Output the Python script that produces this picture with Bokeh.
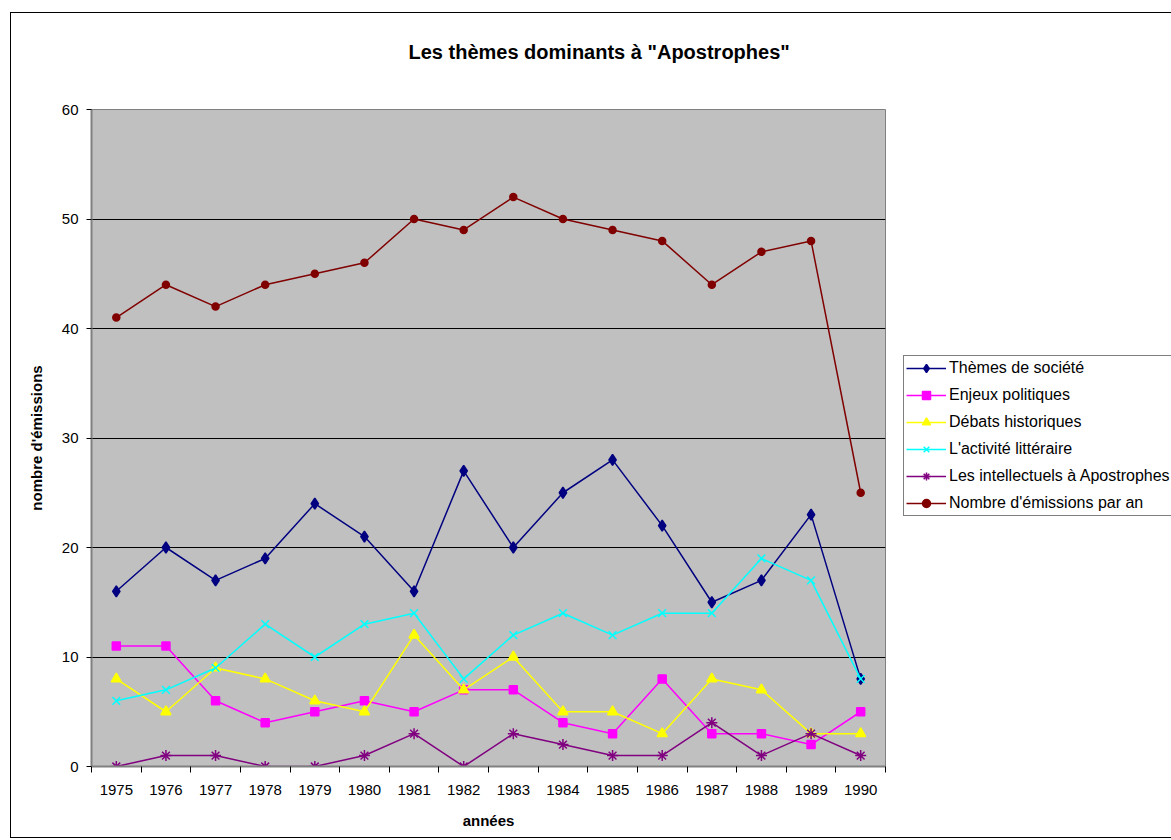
from bokeh.plotting import figure
from bokeh.models import (FixedTicker, Legend, LegendItem, Range1d)
from bokeh.embed import file_html
from bokeh.resources import INLINE

years = [1975, 1976, 1977, 1978, 1979, 1980, 1981, 1982, 1983, 1984, 1985, 1986, 1987, 1988, 1989, 1990]
themes_societe = [16, 20, 17, 19, 24, 21, 16, 27, 20, 25, 28, 22, 15, 17, 23, 8]
enjeux_politiques = [11, 11, 6, 4, 5, 6, 5, 7, 7, 4, 3, 8, 3, 3, 2, 5]
debats_historiques = [8, 5, 9, 8, 6, 5, 12, 7, 10, 5, 5, 3, 8, 7, 3, 3]
activite_litteraire = [6, 7, 9, 13, 10, 13, 14, 8, 12, 14, 12, 14, 14, 19, 17, 8]
intellectuels = [0, 1, 1, 0, 0, 1, 3, 0, 3, 2, 1, 1, 4, 1, 3, 1]
nombre_emissions = [41, 44, 42, 44, 45, 46, 50, 49, 52, 50, 49, 48, 44, 47, 48, 25]

series_names = ["Thèmes de société", "Enjeux politiques", "Débats historiques",
                "L'activité littéraire", "Les intellectuels à Apostrophes",
                "Nombre d'émissions par an"]
y_ticks = [0, 10, 20, 30, 40, 50, 60]

FONT = "Liberation Sans"

p = figure(frame_width=794, frame_height=657,
           min_border_left=80, min_border_right=283, min_border_top=96, min_border_bottom=71,
           x_range=Range1d(years[0] - 0.5, years[-1] + 0.5), y_range=Range1d(0, 60),
           output_backend="svg", toolbar_location=None, background_fill_color="#C0C0C0",
           border_fill_color="white",
           title='Les thèmes dominants à "Apostrophes"\n ')
p.margin = (12, 0, 0, 10)
p.styles = {"border": "1px solid black"}

p.title.text_font = FONT
p.title.text_font_size = "20px"
p.title.text_font_style = "bold"
p.title.text_color = "black"
p.title.align = "left"
p.title.offset = 317
p.title.standoff = 46
p.title.vertical_align = "top"

p.outline_line_color = "#808080"
p.outline_line_width = 1

# grid
p.xgrid.grid_line_color = None
p.ygrid.grid_line_color = "black"
p.ygrid.grid_line_width = 1
p.ygrid.ticker = FixedTicker(ticks=y_ticks)

# axes
p.yaxis.ticker = FixedTicker(ticks=y_ticks)
p.xaxis.ticker = FixedTicker(ticks=years, minor_ticks=[y - 0.5 for y in years] + [years[-1] + 0.5])
p.xaxis.major_tick_line_color = None
p.xaxis.minor_tick_line_color = "black"
p.xaxis.minor_tick_out = 6
p.xaxis.minor_tick_in = 0
p.yaxis.minor_tick_line_color = None
p.yaxis.major_tick_out = 5
p.yaxis.major_tick_in = 0
for ax in (p.xaxis, p.yaxis):
    ax.axis_line_color = "#808080"
    ax.axis_line_width = 2
    ax.major_label_text_font = FONT
    ax.major_label_text_font_size = "15px"
    ax.major_label_text_color = "black"
    ax.axis_label_text_font = FONT
    ax.axis_label_text_font_size = "15px"
    ax.axis_label_text_font_style = "bold"
    ax.axis_label_text_color = "black"
p.yaxis.major_tick_line_color = "black"
p.xaxis.major_label_standoff = 12
p.yaxis.major_label_standoff = 8
p.xaxis.axis_label = "années"
p.yaxis.axis_label = "nombre d'émissions"
p.xaxis.axis_label_standoff = 14
p.yaxis.axis_label_standoff = 14

styles = [
    (themes_societe, "#000080", "diamond", 11),
    (enjeux_politiques, "#FF00FF", "square", 8),
    (debats_historiques, "#FFFF00", "triangle", 10),
    (activite_litteraire, "#00FFFF", "x", 11),
    (intellectuels, "#800080", "asterisk", 11),
    (nombre_emissions, "#800000", "circle", 7),
]

items = []
for name, (vals, color, marker, size) in zip(series_names, styles):
    l = p.line(years, vals, line_color=color, line_width=1.5)
    s = p.scatter(years, vals, marker=marker, size=size, fill_color=color,
                  line_color=color, line_width=1.5)
    items.append(LegendItem(label=name, renderers=[l, s]))

legend = Legend(items=items, location=(18, 250), border_line_color="black",
                border_line_width=1, background_fill_color="white", background_fill_alpha=1,
                label_text_font=FONT, label_text_font_size="16px", label_text_color="black",
                glyph_width=40, glyph_height=20, spacing=7, label_standoff=3,
                padding=2, margin=0, label_height=20)
p.add_layout(legend, "right")

open("out.html", "w").write(file_html(p, INLINE))
